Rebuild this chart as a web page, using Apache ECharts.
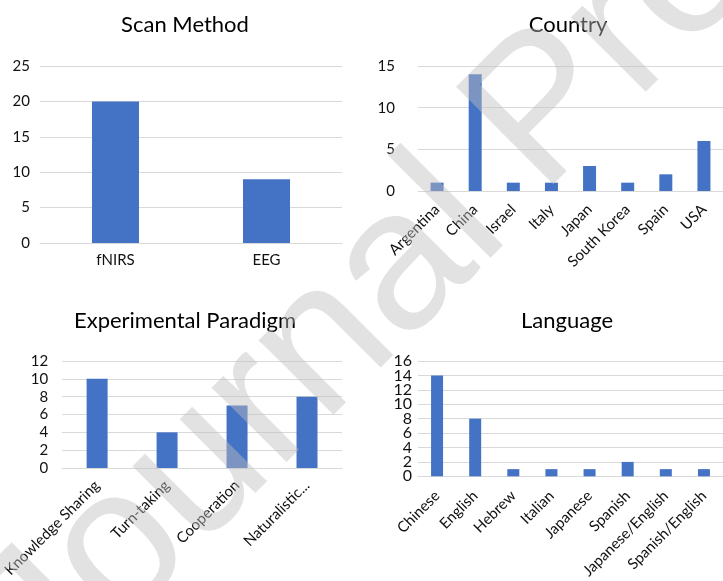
<!DOCTYPE html>
<html>
<head>
<meta charset="utf-8">
<script src="https://cdn.jsdelivr.net/npm/echarts@6/dist/echarts.min.js"></script>
<style>
html,body{margin:0;padding:0;background:#fff;}
#c{width:723px;height:581px;}
</style>
</head>
<body>
<div id="c"></div>
<script>
// ---- data ----
const scanCats = ['fNIRS', 'EEG'];
const scanVals = [20, 9];
const countryCats = ['Argentina', 'China', 'Israel', 'Italy', 'Japan', 'South Korea', 'Spain', 'USA'];
const countryVals = [1, 14, 1, 1, 3, 1, 2, 6];
const paradigmCats = ['Knowledge Sharing', 'Turn-taking', 'Cooperation', 'Naturalistic...'];
const paradigmVals = [10, 4, 7, 8];
const langCats = ['Chinese', 'English', 'Hebrew', 'Italian', 'Japanese', 'Spanish', 'Japanese/English', 'Spanish/English'];
const langVals = [14, 8, 1, 1, 1, 2, 1, 1];
const langTicks = ['0', '2', '4', '6', '8', '10', '12', '14', '16'];
const titles = ['Scan Method', 'Country', 'Experimental Paradigm', 'Language'];
const watermark = ['Journal', 'Pre-proof'];

const FONT = 'Lato';
const BLUE = '#4472C4';
const GRID = '#d9d9d9';

const chart = echarts.init(document.getElementById('c'), null, {renderer: 'canvas'});

const grids = [
  {left: 40, top: 66, width: 302, height: 177},
  {left: 418, top: 66, width: 305, height: 125},
  {left: 62, top: 361, width: 280, height: 107},
  {left: 418, top: 361, width: 305, height: 116}
];
const yMax = [25, 15, 12, 16];
const yInt = [5, 5, 2, 2];
const yMargin = [10, 23, 14, 6];
const cats = [scanCats, countryCats, paradigmCats, langCats];
const vals = [scanVals, countryVals, paradigmVals, langVals];
const barW = [47, 13, 21, 12];
const rot = [0, 45, 45, 45];
const xMargin = [10, 16, 15, 17];
const titlePos = [[180, 9], [563, 9], [180, 305], [562, 305]];

const yAxes = yMax.map((m, i) => ({
  type: 'value',
  gridIndex: i,
  position: 'left',
  min: 0,
  max: m,
  interval: yInt[i],
  axisLine: {show: false},
  axisTick: {show: false},
  splitLine: {lineStyle: {color: GRID, width: 1}},
  axisLabel: {show: i !== 3, margin: yMargin[i], fontFamily: FONT, fontSize: 15, color: '#111'}
}));
// tick labels of the Language panel (dense, shown on a label-only axis)
yAxes.push({
  type: 'category',
  gridIndex: 3,
  position: 'left',
  offset: 0,
  data: langTicks,
  boundaryGap: false,
  axisLine: {show: false},
  axisTick: {show: false},
  splitLine: {show: false},
  axisLabel: {interval: 0, margin: yMargin[3], fontFamily: FONT, fontSize: 16, lineHeight: 12, color: '#111'}
});

const option = {
  animation: false,
  backgroundColor: '#fff',
  title: titles.map((t, i) => ({
    text: t,
    left: titlePos[i][0],
    top: titlePos[i][1],
    textAlign: 'center',
    textStyle: {fontFamily: FONT, fontSize: 22, fontWeight: 'normal', color: '#000'}
  })),
  grid: grids.map(g => Object.assign({containLabel: false}, g)),
  xAxis: cats.map((c, i) => ({
    type: 'category',
    gridIndex: i,
    data: c,
    axisTick: {show: false},
    axisLine: {show: true, lineStyle: {color: GRID, width: 1}},
    axisLabel: {interval: 0, rotate: rot[i], margin: xMargin[i], fontFamily: FONT, fontSize: 15, color: '#111'}
  })),
  yAxis: yAxes,
  series: vals.map((v, i) => ({
    type: 'bar',
    xAxisIndex: i,
    yAxisIndex: i,
    data: v,
    barWidth: barW[i],
    itemStyle: {color: BLUE}
  })),
  graphic: [
    {x: -61, y: 590, text: watermark[0]},
    {x: 432, y: 86, text: watermark[1]}
  ].map(w => ({
    type: 'text',
    x: w.x,
    y: w.y,
    rotation: Math.PI / 4,
    z: 100,
    silent: true,
    style: {
      text: w.text,
      font: '200px "Liberation Sans"',
      fill: 'rgba(190,190,190,0.45)',
      textAlign: 'left',
      verticalAlign: 'top'
    }
  }))
};
chart.setOption(option);
</script>
</body>
</html>
